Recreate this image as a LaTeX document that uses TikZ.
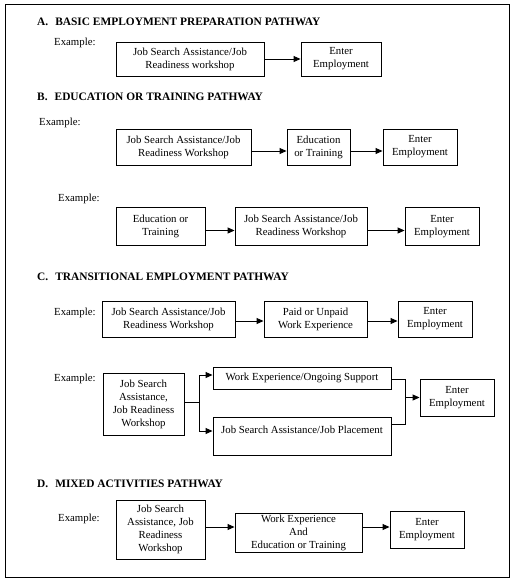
\documentclass[tikz,border=0pt]{standalone}
\usepackage{fontspec}
\setmainfont{Liberation Serif}
\usetikzlibrary{arrows.meta}
\begin{document}
\begin{tikzpicture}[x=1pt,y=-1pt,
  txt/.style={font=\fontsize{10.8}{13}\selectfont},
  box/.style={draw, line width=0.9pt, align=center, inner sep=0pt, txt},
  lbl/.style={anchor=west, inner sep=0pt, txt},
  head/.style={anchor=west, inner sep=0pt, font=\bfseries\fontsize{11.4}{13}\selectfont},
  arr/.style={-{Triangle[length=7pt,width=6pt]}, line width=0.9pt},
  ln/.style={line width=0.9pt}]
\useasboundingbox (0,0) rectangle (516,581);
\draw[ln] (5,4) rectangle (509,577);

% Section A
\node[head] (hA) at (37,22) {A.\hspace{7pt}BASIC EMPLOYMENT PREPARATION PATHWAY};
\node[lbl] (exA) at (54,43) {Example:};
\node[box, minimum width=148, minimum height=34] (A1) at (190,59) {Job Search Assistance/Job\\Readiness workshop};
\node[box, minimum width=80, minimum height=34] (A2) at (341,59) {Enter\\Employment};
\draw[arr] (A1.east) -- (A2.west);

% Section B
\node[head] (hB) at (37,97) {B.\hspace{7pt}EDUCATION OR TRAINING PATHWAY};
\node[lbl] (exB1) at (39,123) {Example:};
\node[box, minimum width=135, minimum height=36] (B1) at (183.5,147) {Job Search Assistance/Job\\Readiness Workshop};
\node[box, minimum width=63, minimum height=36] (B2) at (318.5,147) {Education\\or Training};
\node[box, minimum width=74, minimum height=36] (B3) at (420,147) {Enter\\Employment};
\draw[arr] ([yshift=-4pt]B1.east) -- ([yshift=-4pt]B2.west);
\draw[arr] ([yshift=-4pt]B2.east) -- ([yshift=-4pt]B3.west);

\node[lbl] (exB2) at (58,199) {Example:};
\node[box, minimum width=89, minimum height=38] (B4) at (160.5,226.5) {Education or\\Training};
\node[box, minimum width=132, minimum height=38] (B5) at (301,226.5) {Job Search Assistance/Job\\Readiness Workshop};
\node[box, minimum width=74, minimum height=38] (B6) at (442,226.5) {Enter\\Employment};
\draw[arr] ([yshift=-4pt]B4.east) -- ([yshift=-4pt]B5.west);
\draw[arr] ([yshift=-4pt]B5.east) -- ([yshift=-4pt]B6.west);

% Section C
\node[head] (hC) at (37,277) {C.\hspace{7pt}TRANSITIONAL EMPLOYMENT PATHWAY};
\node[lbl] (exC1) at (54,313) {Example:};
\node[box, minimum width=133, minimum height=36] (C1) at (168.5,319) {Job Search Assistance/Job\\Readiness Workshop};
\node[box, minimum width=103, minimum height=36] (C2) at (315.5,319) {Paid or Unpaid\\Work Experience};
\node[box, minimum width=74, minimum height=36] (C3) at (435,319) {Enter\\Employment};
\draw[arr] ([yshift=-2pt]C1.east) -- ([yshift=-2pt]C2.west);
\draw[arr] ([yshift=-2pt]C2.east) -- ([yshift=-2pt]C3.west);

\node[lbl] (exC2) at (54,379) {Example:};
\node[box, minimum width=81, minimum height=62] (C4) at (143.5,404) {Job Search\\Assistance,\\Job Readiness\\Workshop};
\node[box, minimum width=178, minimum height=22] (C5) at (302,378) {Work Experience/Ongoing Support};
\node[box, minimum width=178, minimum height=38] (C6) at (302,436) {Job Search Assistance/Job Placement\\\mbox{}};
\node[box, minimum width=74, minimum height=37] (C7) at (457,397.5) {Enter\\Employment};
\coordinate (br) at (199,402);
\draw[ln] (C4.east |- br) -- (br);
\draw[arr] (br) |- (C5.west |- 0,375);
\draw[arr] (br) |- (C6.west |- 0,431);
\coordinate (mg) at (405,397.5);
\draw[ln] (C5.east |- 0,379) -| (mg);
\draw[ln] (C6.east |- 0,424) -| (mg);
\draw[arr] (mg) -- (C7.west);

% Section D
\node[head] (hD) at (37,484) {D.\hspace{7pt}MIXED ACTIVITIES PATHWAY};
\node[lbl] (exD) at (58,519) {Example:};
\node[box, minimum width=89, minimum height=59] (D1) at (160.5,529.5) {Job Search\\Assistance, Job\\Readiness\\Workshop};
\node[box, minimum width=127, minimum height=39] (D2) at (298.5,532.5) {Work Experience\\And\\Education or Training};
\node[box, minimum width=74, minimum height=37] (D3) at (427,529.5) {Enter\\Employment};
\draw[arr] (D1.east |- 0,527) -- (D2.west |- 0,527);
\draw[arr] (D2.east |- 0,527) -- (D3.west |- 0,527);
\end{tikzpicture}
\end{document}
